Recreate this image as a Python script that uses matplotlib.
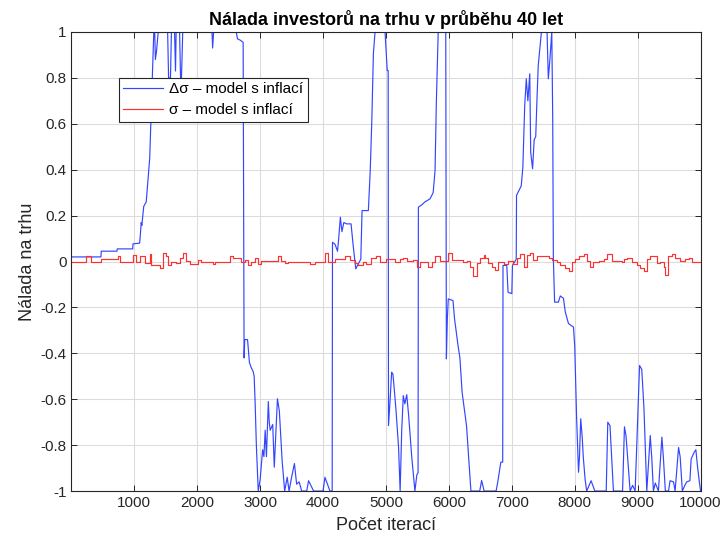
import numpy as np
import matplotlib.pyplot as plt

plt.rcParams['font.family'] = ['Liberation Sans', 'DejaVu Sans']

# Delta sigma - model with inflation (iteration, value)
blue_it = [0, 470, 475, 725, 730, 975, 980, 1085, 1100, 1110, 1120, 1150, 1190, 1245, 1280, 1310,
           1325, 1335, 1355, 1380, 1530, 1545, 1575, 1590, 1640, 1655, 1665, 1720, 1735, 1750, 1770,
           2235, 2245, 2260, 2620, 2640, 2680, 2730, 2745, 2755, 2800, 2830, 2855, 2890, 2905, 2920,
           2940, 2970, 3000, 3040, 3060, 3080, 3100, 3130, 3145, 3160, 3200, 3225, 3275, 3305, 3350,
           3390, 3430, 3460, 3500, 3545, 3580, 3620, 3660, 3740, 3770, 3850, 4000, 4030, 4070, 4110,
           4145, 4150, 4190, 4230, 4250, 4275, 4300, 4330, 4375, 4445, 4480, 4520, 4560, 4600, 4620,
           4720, 4750, 4775, 4800, 4826, 4985, 5020, 5035, 5040, 5065, 5090, 5110, 5130, 5160, 5200,
           5225, 5250, 5275, 5300, 5330, 5360, 5410, 5460, 5490, 5510, 5515, 5560, 5620, 5700, 5750,
           5780, 5800, 5830, 5950, 5960, 5975, 5990, 6065, 6090, 6145, 6175, 6210, 6280, 6350, 6490,
           6520, 6560, 6750, 6780, 6825, 6855, 6860, 6920, 6940, 7000, 7010, 7070, 7075, 7150, 7175,
           7205, 7230, 7255, 7285, 7300, 7330, 7355, 7380, 7400, 7420, 7470, 7560, 7580, 7605, 7635,
           7650, 7660, 7680, 7740, 7770, 7820, 7850, 7900, 7980, 8000, 8030, 8060, 8075, 8095, 8120,
           8135, 8165, 8190, 8260, 8320, 8500, 8525, 8560, 8615, 8760, 8790, 8815, 8880, 8920, 8960,
           9030, 9065, 9100, 9145, 9200, 9225, 9250, 9280, 9330, 9385, 9410, 9440, 9490, 9515, 9570,
           9595, 9650, 9675, 9710, 9750, 9780, 9830, 9850, 9900, 9925, 9950, 9980, 10000]
blue_val = [0.02, 0.02, 0.045, 0.045, 0.055, 0.055, 0.077, 0.08, 0.13, 0.17, 0.157, 0.24, 0.26, 0.45, 0.74, 1.0,
            1.0, 0.88, 0.92, 1.0, 1.0, 0.80, 0.80, 1.0, 1.0, 0.83, 1.0, 1.0, 0.80, 0.80, 1.0,
            1.0, 0.93, 1.0, 1.0, 0.97, 0.965, 0.955, -0.42, -0.34, -0.34, -0.44, -0.46, -0.48, -0.50, -0.61,
            -0.80, -1.0, -0.95, -0.82, -0.85, -0.735, -0.85, -0.61, -0.70, -0.735, -0.71, -0.896, -0.598, -0.65, -0.87,
            -1.0, -0.94, -1.0, -0.94, -0.88, -0.97, -0.96, -1.0, -1.0, -0.955, -1.0, -1.0, -0.94, -0.97, -1.0,
            -1.0, 0.084, 0.075, 0.045, 0.106, 0.193, 0.13, 0.17, 0.164, 0.164, 0.066, -0.032, -0.01, 0.01, 0.222,
            0.222, 0.397, 0.614, 0.905, 1.0, 1.0, 0.832, 0.832, -0.715, -0.606, -0.482, -0.49, -0.55, -0.65, -0.81,
            -1.0, -0.736, -0.584, -0.62, -0.58, -0.67, -0.853, -1.0, -0.93, -0.92, 0.237, 0.245, 0.26, 0.273, 0.30,
            0.397, 0.687, 1.0, 1.0, -0.424, -0.25, -0.163, -0.17, -0.25, -0.366, -0.42, -0.57, -0.715, -1.0, -1.0,
            -0.954, -1.0, -1.0, -0.955, -0.874, -0.874, -0.017, -0.017, -0.134, -0.14, -0.017, 0.01, 0.288, 0.33, 0.41,
            0.68, 0.796, 0.70, 0.818, 0.476, 0.404, 0.53, 0.545, 0.709, 0.854, 1.0, 1.0, 0.796, 0.88, 1.0,
            0.622, 0.012, -0.177, -0.177, -0.15, -0.16, -0.22, -0.27, -0.286, -0.37, -0.685, -0.918, -0.85, -0.685, -0.77,
            -0.85, -0.95, -1.0, -0.955, -1.0, -1.0, -0.70, -0.715, -1.0, -1.0, -0.72, -0.76, -1.0, -0.975, -1.0,
            -0.453, -0.47, -0.64, -1.0, -0.758, -0.86, -1.0, -0.965, -1.0, -0.765, -0.86, -1.0, -1.0, -0.955, -0.96,
            -1.0, -0.81, -0.85, -1.0, -0.975, -0.96, -0.955, -0.86, -0.83, -0.82, -0.89, -0.96, -1.0]

# sigma - model with inflation, step change points
red_it = [0, 238, 317, 476, 741, 768, 980, 1032, 1086, 1165, 1244, 1271, 1403, 1456, 1510, 1536,
          1589, 1669, 1722, 1774, 1828, 1880, 2013, 2066, 2252, 2278, 2516, 2570, 2702, 2755, 2808,
          2861, 2914, 2967, 3020, 3285, 3338, 3391, 3444, 3789, 3868, 4027, 4080, 4186, 4345, 4425,
          4504, 4557, 4636, 4690, 4769, 4848, 4901, 5007, 5145, 5225, 5278, 5330, 5436, 5490, 5542,
          5675, 5728, 5781, 5860, 5993, 6046, 6232, 6285, 6338, 6390, 6444, 6496, 6550, 6576, 6629,
          6682, 6735, 6788, 6868, 6947, 7026, 7080, 7132, 7186, 7238, 7292, 7344, 7398, 7583, 7636,
          7716, 7768, 7848, 7901, 7954, 8007, 8060, 8140, 8192, 8246, 8298, 8378, 8458, 8510, 8590,
          8749, 8776, 8828, 8908, 8988, 9040, 9094, 9146, 9200, 9252, 9306, 9358, 9412, 9438, 9490,
          9544, 9597, 9676, 9756, 9809, 9862, 10000]
red_val = [0.0, 0.026, 0.0, 0.012, 0.022, -0.003, 0.029, 0.0, 0.022, -0.007, 0.032, -0.015, -0.029, 0.036, 0.022, -0.015,
           0.0, -0.007, 0.015, 0.036, 0.003, -0.012, 0.007, 0.0, -0.012, 0.0, 0.022, 0.017, 0.0, 0.007, -0.015,
           -0.003, 0.015, -0.012, 0.003, 0.026, 0.003, -0.007, 0.0, -0.012, 0.0, 0.036, 0.0, 0.012, 0.022, 0.007,
           -0.007, -0.017, 0.0, -0.012, 0.015, 0.022, 0.0, 0.012, -0.003, 0.012, 0.015, 0.003, 0.007, -0.022, -0.003,
           -0.022, -0.003, 0.026, 0.003, 0.036, 0.007, 0.0, 0.003, -0.022, -0.065, -0.007, 0.015, 0.029, 0.015, -0.007,
           -0.026, -0.036, -0.003, -0.012, 0.003, -0.012, 0.015, 0.032, -0.022, 0.029, 0.036, 0.007, 0.026, 0.015, 0.007,
           0.0, -0.015, -0.029, -0.043, 0.0, 0.012, 0.022, 0.032, 0.003, -0.026, -0.003, 0.003, 0.012, 0.032, 0.003,
           -0.003, 0.012, 0.017, 0.0, -0.017, -0.029, -0.043, 0.012, 0.022, 0.026, -0.007, 0.0, -0.022, -0.06, 0.022,
           0.032, 0.017, 0.003, 0.012, 0.015, -0.003, -0.003]

xticks = [1000, 2000, 3000, 4000, 5000, 6000, 7000, 8000, 9000, 10000]
yticks = [-1, -0.8, -0.6, -0.4, -0.2, 0, 0.2, 0.4, 0.6, 0.8, 1]
ylabels = ["-1", "-0.8", "-0.6", "-0.4", "-0.2", "0", "0.2", "0.4", "0.6", "0.8", "1"]

fig = plt.figure(figsize=(7.26, 5.42), dpi=100)
ax = fig.add_axes([0.0983, 0.094, 0.8667, 0.847])

ax.plot(blue_it, blue_val, color='#3346ff', linewidth=0.85, label='Δσ – model s inflací')
ax.plot(red_it, red_val, color='#ff3030', linewidth=0.85, drawstyle='steps-post', label='σ – model s inflací')

ax.set_xlim(0, 10000)
ax.set_ylim(-1, 1)
ax.set_xticks(xticks)
ax.set_xticklabels([str(t) for t in xticks])
ax.set_yticks(yticks)
ax.set_yticklabels(ylabels)
ax.grid(True, color='#dcdcdc', linewidth=0.8)
ax.set_axisbelow(True)
ax.tick_params(direction='in', top=True, right=True, length=4, labelsize=11, colors='#262626',
               width=0.7)
for s in ax.spines.values():
    s.set_color('#262626')
    s.set_linewidth(0.8)

ax.set_title('Nálada investorů na trhu v průběhu 40 let', fontsize=13, fontweight='bold', pad=5)
ax.set_xlabel('Počet iterací', fontsize=13, color='#262626', labelpad=5)
ax.set_ylabel('Nálada na trhu', fontsize=13, color='#262626', labelpad=3)

leg = ax.legend(loc='upper left', bbox_to_anchor=(0.075, 0.90), fontsize=11, fancybox=False,
                framealpha=1, edgecolor='#262626', borderpad=0.3, labelspacing=0.45,
                handlelength=2.6, handletextpad=0.4, borderaxespad=0)
leg.get_frame().set_linewidth(0.8)

fig.savefig('out.png', dpi=100)
